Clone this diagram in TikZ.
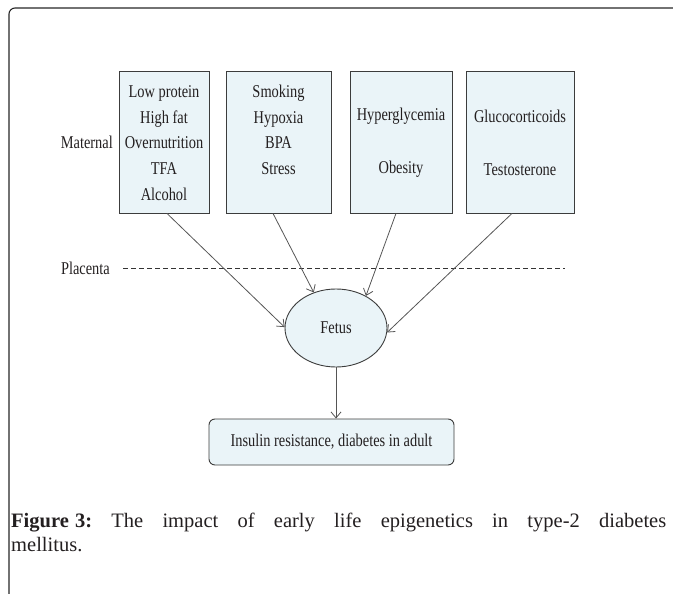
\documentclass[tikz,border=0pt]{standalone}
\usepackage{fontspec}
\setmainfont{Liberation Serif}
\newfontfamily\dfont[FakeStretch=0.8]{Liberation Serif}
\usetikzlibrary{arrows.meta,shapes.geometric}
\definecolor{boxfill}{RGB}{234,244,248}
\definecolor{boxline}{RGB}{60,60,60}
\definecolor{arrline}{RGB}{85,85,85}
\definecolor{txt}{RGB}{35,31,32}
\begin{document}
\begin{tikzpicture}[x=1pt,y=-1pt,
  mbox/.style={draw=boxline, fill=boxfill, line width=0.9pt, inner sep=0pt},
  btext/.style={align=center, inner sep=0pt, text=txt, font=\dfont\fontsize{18}{25.6}\selectfont},
  lbl/.style={inner sep=0pt, text=txt, font=\dfont\fontsize{18}{20}\selectfont},
  arr/.style={draw=arrline, line width=0.8pt, -{Straight Barb[length=6pt,width=10pt]}},
  captext/.style={inner sep=0pt, text=txt, font=\fontsize{20.5}{24}\selectfont}
]
\useasboundingbox (0,0) rectangle (673,594);
% frame
\draw[rounded corners=6pt, line width=1.1pt, draw=black!85] (9,600) -- (9,8) -- (680,8);

% maternal boxes
\node[mbox, minimum width=90pt, minimum height=142pt] (b1) at (164,142) {};
\node[mbox, minimum width=105pt, minimum height=142pt] (b2) at (278.5,142) {};
\node[mbox, minimum width=102pt, minimum height=142pt] (b3) at (401,142) {};
\node[mbox, minimum width=108pt, minimum height=142pt] (b4) at (520,142) {};

\node[btext] (t1) at (164,143) {Low protein\\High fat\\Overnutrition\\TFA\\Alcohol};
\node[btext] (t2) at (278.5,130) {Smoking\\Hypoxia\\BPA\\Stress};
\node[btext] (t3) at (401,143) {Hyperglycemia\\[27.4pt]Obesity};
\node[btext] (t4) at (520,143) {Glucocorticoids\\[27.4pt]Testosterone};

\node[lbl, anchor=east] (mat) at (113,142) {Maternal};
\node[lbl, anchor=east] (plac) at (110,268) {Placenta};
\coordinate (ds) at (123,268);
\coordinate (de) at (565,268);
\draw[draw=black!80, line width=0.9pt, dash pattern=on 5pt off 3pt] (ds) -- (de);

% fetus
\node[ellipse, draw=boxline, fill=boxfill, line width=0.9pt, minimum width=102pt, minimum height=78pt, inner sep=0pt, text=txt, font=\dfont\fontsize{18}{20}\selectfont] (fetus) at (336,328) {Fetus};

% outcome
\node[draw=boxline, fill=boxfill, line width=0.9pt, rounded corners=6pt, minimum width=245pt, minimum height=46pt, inner sep=0pt, text=txt, font=\dfont\fontsize{18}{20}\selectfont] (res) at (331.5,442) {Insulin resistance, diabetes in adult};

% arrows
\draw[arr] ([xshift=3pt]b1.south) -- (fetus.179);
\draw[arr] ([xshift=-5.5pt]b2.south) -- (fetus.122);
\draw[arr] ([xshift=-5pt]b3.south) -- (fetus.47);
\draw[arr] ([xshift=-8pt]b4.south) -- (fetus.-5);
\draw[arr] (fetus.south) -- (fetus.south |- res.north);

% caption
\node[captext, anchor=base west] (cap1) at (11,527) {\hbox to 655pt{\frenchspacing\spaceskip=0.25em plus 1fil\relax\textbf{Figure\hspace{0.3em}3:} The impact of early life epigenetics in type-2 diabetes}};
\node[captext, anchor=base west] (cap2) at (11,551) {mellitus.};
\end{tikzpicture}
\end{document}
